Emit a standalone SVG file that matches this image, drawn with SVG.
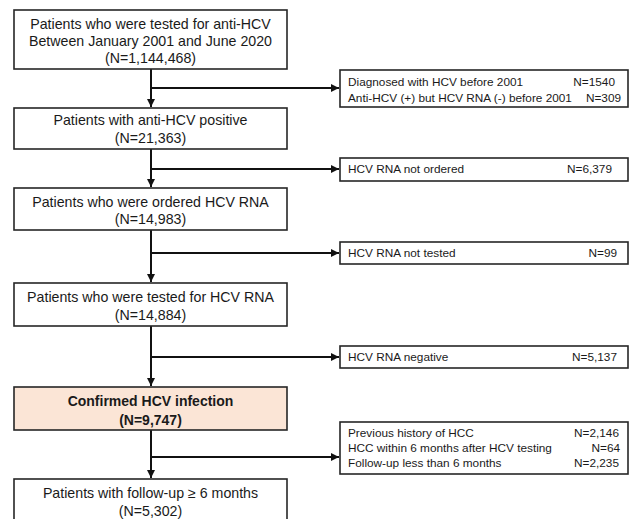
<svg xmlns="http://www.w3.org/2000/svg" width="633" height="519" viewBox="0 0 633 519">
<style>
.box{fill:#fff;stroke:#262626;stroke-width:1.6}
.hl{fill:#fbe5d6;stroke:#262626;stroke-width:1.6}
.m{font-family:"Liberation Sans",Arial,sans-serif;font-size:14.2px;fill:#1a1a1a;text-anchor:middle}
.b{font-weight:bold;font-size:14px}
.s{font-family:"Liberation Sans",Arial,sans-serif;font-size:11.8px;fill:#1a1a1a}
.e{text-anchor:end}
.c{fill:none;stroke:#111;stroke-width:2}
</style>
<defs>
<marker id="ah" viewBox="0 0 8 8" refX="8" refY="4" markerWidth="4" markerHeight="4" orient="auto" markerUnits="strokeWidth">
<path d="M0,0 L8,4 L0,8 z" fill="#111"/>
</marker>
</defs>
<rect width="633" height="519" fill="#fff"/>
<g id="connectors">
<path class="c" d="M151,69 V107" marker-end="url(#ah)"/>
<path class="c" d="M151,88 H339" marker-end="url(#ah)"/>
<path class="c" d="M151,149 V187" marker-end="url(#ah)"/>
<path class="c" d="M151,169 H339" marker-end="url(#ah)"/>
<path class="c" d="M151,230 V282" marker-end="url(#ah)"/>
<path class="c" d="M151,253 H339" marker-end="url(#ah)"/>
<path class="c" d="M151,326 V386" marker-end="url(#ah)"/>
<path class="c" d="M151,357 H339" marker-end="url(#ah)"/>
<path class="c" d="M151,430 V478" marker-end="url(#ah)"/>
<path class="c" d="M151,457 H339" marker-end="url(#ah)"/>
</g>
<g id="n1">
<rect class="box" x="14" y="10" width="273" height="59"/>
<text class="m" x="150.5" y="29">Patients who were tested for anti-HCV</text>
<text class="m" x="150.5" y="46">Between January 2001 and June 2020</text>
<text class="m" x="150.5" y="63">(N=1,144,468)</text>
</g>
<g id="n2">
<rect class="box" x="14" y="108" width="273" height="41"/>
<text class="m" x="150.5" y="125">Patients with anti-HCV positive</text>
<text class="m" x="150.5" y="143">(N=21,363)</text>
</g>
<g id="n3">
<rect class="box" x="14" y="188" width="273" height="42"/>
<text class="m" x="150.5" y="207">Patients who were ordered HCV RNA</text>
<text class="m" x="150.5" y="224">(N=14,983)</text>
</g>
<g id="n4">
<rect class="box" x="14" y="283" width="273" height="43"/>
<text class="m" x="150.5" y="302">Patients who were tested for HCV RNA</text>
<text class="m" x="150.5" y="320">(N=14,884)</text>
</g>
<g id="n5">
<rect class="hl" x="14" y="387" width="273" height="43"/>
<text class="m b" x="150.5" y="406">Confirmed HCV infection</text>
<text class="m b" x="150.5" y="425">(N=9,747)</text>
</g>
<g id="n6">
<rect class="box" x="14" y="479" width="273" height="50"/>
<text class="m" x="150.5" y="498">Patients with follow-up ≥ 6 months</text>
<text class="m" x="150.5" y="516">(N=5,302)</text>
</g>
<g id="x1">
<rect class="box" x="340" y="70" width="288" height="37"/>
<text class="s" x="348" y="86">Diagnosed with HCV before 2001</text>
<text class="s e" x="615" y="86">N=1540</text>
<text class="s" x="348" y="102">Anti-HCV (+) but HCV RNA (-) before 2001</text>
<text class="s e" x="621" y="102">N=309</text>
</g>
<g id="x2">
<rect class="box" x="340" y="158" width="288" height="23"/>
<text class="s" x="348" y="173">HCV RNA not ordered</text>
<text class="s e" x="612" y="173">N=6,379</text>
</g>
<g id="x3">
<rect class="box" x="340" y="242" width="288" height="22"/>
<text class="s" x="348" y="257">HCV RNA not tested</text>
<text class="s e" x="617" y="257">N=99</text>
</g>
<g id="x4">
<rect class="box" x="340" y="346" width="288" height="22"/>
<text class="s" x="348" y="361">HCV RNA negative</text>
<text class="s e" x="617" y="361">N=5,137</text>
</g>
<g id="x5">
<rect class="box" x="340" y="422" width="288" height="52"/>
<text class="s" x="348" y="437">Previous history of HCC</text>
<text class="s e" x="619" y="437">N=2,146</text>
<text class="s" x="348" y="452">HCC within 6 months after HCV testing</text>
<text class="s e" x="620" y="452">N=64</text>
<text class="s" x="348" y="467">Follow-up less than 6 months</text>
<text class="s e" x="619" y="467">N=2,235</text>
</g>
</svg>
